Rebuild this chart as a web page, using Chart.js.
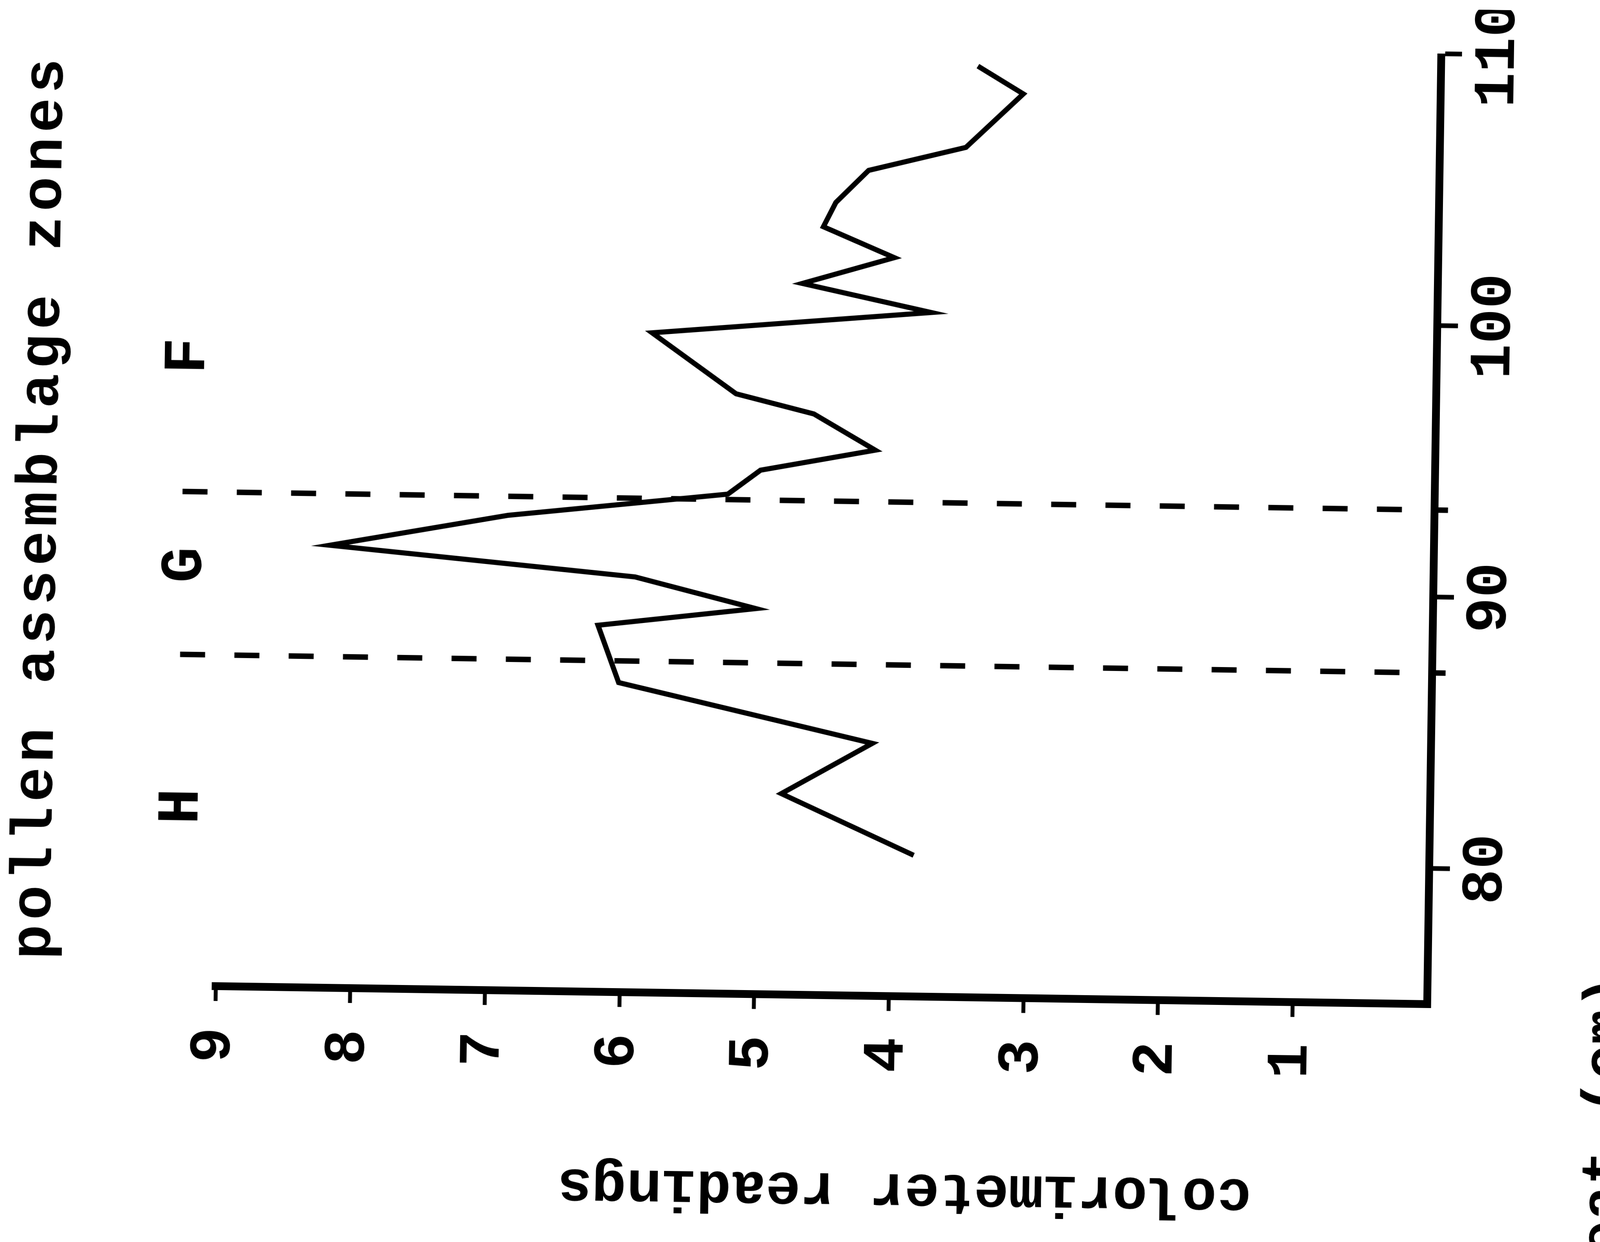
<!DOCTYPE html>
<html>
<head>
<meta charset="utf-8">
<script src="https://cdn.jsdelivr.net/npm/chart.js@4.4.1/dist/chart.umd.min.js"></script>
<style>
  html, body { margin: 0; padding: 0; background: #fff; overflow: hidden; }
  body { width: 4232px; height: 3180px; position: relative; }
  /* the figure is printed sideways, slightly skewed */
  #wrap { position: absolute; left: 526px; top: -526px; width: 3180px; height: 4232px; transform: rotate(-89.15deg); }
</style>
</head>
<body>
<div id="wrap"><canvas id="chart" width="3180" height="4232"></canvas></div>
<script>
const depth = [80.2, 82.4, 84.3, 86.4, 88.5, 89.2, 90.3, 91.3, 92.5, 93.4, 94.3, 95.1,
               96.4, 97.1, 99.3, 100.2, 101.2, 102.2, 103.3, 104.2, 105.4, 106.3, 108.3, 109.3];
const reading = [3.83, 4.82, 4.15, 6.04, 6.2, 5.03, 5.93, 8.2, 6.88, 5.25, 5.01, 4.16,
                 4.62, 5.2, 5.83, 3.76, 4.72, 4.04, 4.57, 4.48, 4.24, 3.52, 3.1, 3.44];
const depthTicks = [80, 90, 100, 110];
const readingTicks = [1, 2, 3, 4, 5, 6, 7, 8, 9];
const zoneNames = ['H', 'G', 'F'];
const zoneCentres = [81.6, 90.5, 98.2];
const zoneBounds = [87.2, 93.2];

const FONT = "'Liberation Mono', 'DejaVu Sans Mono', monospace";
const zoneRow = 9.3;

const textPlugin = {
  id: 'textPlugin',
  afterDraw(chart) {
    const { ctx, scales: { x, y } } = chart;
    ctx.save();
    ctx.fillStyle = '#000';
    ctx.textBaseline = 'alphabetic';

    // title over the zones
    ctx.font = 'bold 148px ' + FONT;
    ctx.letterSpacing = '12px';
    ctx.textAlign = 'center';
    ctx.fillText('pollen assemblage zones', 1853, 140);

    ctx.letterSpacing = '0px';
    ctx.font = 'bold 152px ' + FONT;
    zoneNames.forEach((name, i) => {
      ctx.fillText(name, x.getPixelForValue(zoneCentres[i]), y.getPixelForValue(zoneRow) + 50);
    });

    // x axis title (runs off the page)
    ctx.font = 'bold 150px ' + FONT;
    ctx.textAlign = 'right';
    ctx.fillText('depth in peat (cm)', 715, 4172);

    // y axis title
    ctx.font = 'bold 148px ' + FONT;
    ctx.textAlign = 'center';
    ctx.translate(176, 2337);
    ctx.rotate(-Math.PI / 2);
    ctx.fillText('colorimeter readings', 0, 0);
    ctx.restore();
  }
};

const zoneLines = zoneBounds.map(b => ({
  data: [{ x: b, y: zoneRow }, { x: b, y: -0.1 }],
  borderColor: '#000',
  borderWidth: 14,
  borderDash: [64, 75],
  pointRadius: 0,
  clip: false
}));

new Chart(document.getElementById('chart'), {
  type: 'line',
  data: {
    datasets: [
      {
        label: 'colorimeter readings',
        data: depth.map((d, i) => ({ x: d, y: reading[i] })),
        borderColor: '#000',
        borderWidth: 13,
        borderJoinStyle: 'miter',
        tension: 0,
        pointRadius: 0,
        fill: false
      },
      ...zoneLines
    ]
  },
  options: {
    responsive: false,
    animation: false,
    events: [],
    layout: { padding: { top: 566, right: 115, left: 0, bottom: 0 } },
    plugins: { legend: { display: false }, tooltip: { enabled: false } },
    scales: {
      x: {
        type: 'linear',
        min: 75,
        max: 110,
        afterBuildTicks: s => { s.ticks = depthTicks.map(v => ({ value: v })); },
        afterFit: s => { s.height = 564; s.paddingLeft = 0; s.paddingRight = 0; },
        grid: { drawOnChartArea: false, drawTicks: true, tickLength: 53, tickWidth: 12, tickColor: '#000' },
        border: { display: true, width: 20, color: '#000' },
        ticks: {
          color: '#000',
          padding: 5,
          maxRotation: 0,
          autoSkip: false,
          font: { family: FONT, size: 150, weight: 'bold' }
        }
      },
      y: {
        type: 'linear',
        min: 0,
        max: 9,
        afterBuildTicks: s => { s.ticks = readingTicks.map(v => ({ value: v })); },
        afterFit: s => { s.width = 632; s.paddingTop = 0; s.paddingBottom = 0; },
        grid: { drawOnChartArea: false, drawTicks: true, tickLength: 38, tickWidth: 10, tickColor: '#000' },
        border: { display: true, width: 20, color: '#000' },
        ticks: {
          color: '#000',
          padding: 68,
          font: { family: FONT, size: 150, weight: 'bold' }
        }
      }
    }
  },
  plugins: [textPlugin]
});
</script>
</body>
</html>
